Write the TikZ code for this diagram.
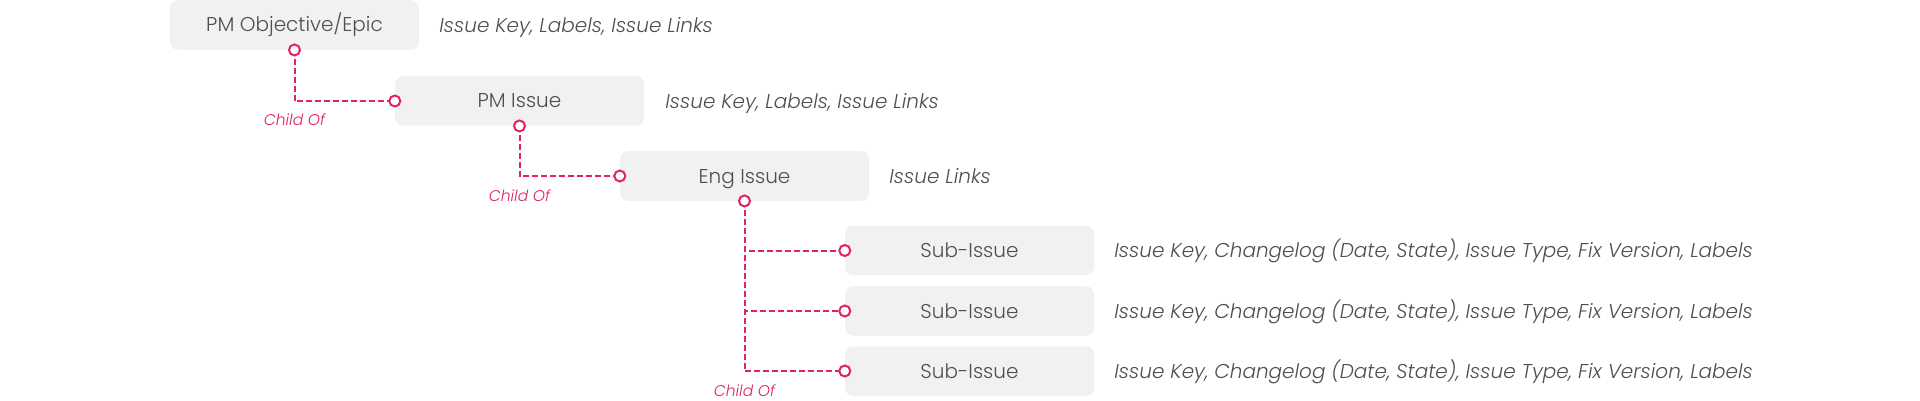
\documentclass[tikz,border=0pt]{standalone}
\usepackage{fontspec}
\setmainfont{Poppins}[UprightFont={* Light}, ItalicFont={* Light Italic}]
\usetikzlibrary{calc}
\definecolor{linkpink}{HTML}{E0245E}
\definecolor{boxgray}{HTML}{F1F1F1}
\definecolor{txtgray}{HTML}{4F4F4F}
\begin{document}
\begin{tikzpicture}[x=1pt,y=-1pt,
  box/.style={fill=boxgray, rounded corners=8pt, minimum width=249pt, minimum height=49.5pt,
    inner sep=0pt, text height=14pt, text depth=0pt, font=\fontsize{20}{24}\selectfont, text=txtgray},
  attr/.style={anchor=west, inner sep=0pt, text height=14.6pt, text depth=0pt,
    font=\fontsize{20}{24}\selectfont\itshape, text=txtgray},
  link/.style={draw=linkpink, line width=2pt, dash pattern=on 6pt off 3pt},
  port/.style={circle, draw=linkpink, line width=2pt, fill=white, minimum size=11pt, inner sep=0pt},
  lbl/.style={anchor=base, inner sep=0pt, font=\fontsize{15.5}{18}\selectfont\itshape, text=linkpink}]
\useasboundingbox (0,0) rectangle (1920,401);

\node[box] (b1) at (294.5,25) {PM Objective/Epic};
\node[box] (b2) at (519.5,101) {PM Issue};
\node[box] (b3) at (744.5,176) {Eng Issue};
\node[box] (s1) at (969.5,250.5) {Sub-Issue};
\node[box] (s2) at (969.5,311) {Sub-Issue};
\node[box] (s3) at (969.5,371) {Sub-Issue};

\node[attr] (a1) at ($(b1.east)+(20,0)$) {Issue Key, Labels, Issue Links};
\node[attr] (a2) at ($(b2.east)+(21,0)$) {Issue Key, Labels, Issue Links};
\node[attr] (a3) at ($(b3.east)+(20,0)$) {Issue Links};
\node[attr] (a4) at ($(s1.east)+(20,0)$) {Issue Key, Changelog (Date, State), Issue Type, Fix Version, Labels};
\node[attr] (a5) at ($(s2.east)+(20,0)$) {Issue Key, Changelog (Date, State), Issue Type, Fix Version, Labels};
\node[attr] (a6) at ($(s3.east)+(20,0)$) {Issue Key, Changelog (Date, State), Issue Type, Fix Version, Labels};

\coordinate (p1c) at (b1.south);
\coordinate (q2c) at (b2.west);
\coordinate (p2c) at (b2.south);
\coordinate (q3c) at (b3.west);
\coordinate (p3c) at (b3.south);
\coordinate (r1c) at (s1.west);
\coordinate (r2c) at (s2.west);
\coordinate (r3c) at (s3.west);

\draw[link] (p1c) |- (q2c);
\draw[link] (p2c) |- (q3c);
\draw[link] (p3c) |- (r1c);
\draw[link] (p3c) |- (r2c);
\draw[link] (p3c) |- (r3c);

\node[port] (p1) at (p1c) {};
\node[port] (q2) at (q2c) {};
\node[port] (p2) at (p2c) {};
\node[port] (q3) at (q3c) {};
\node[port] (p3) at (p3c) {};
\node[port] (r1) at (r1c) {};
\node[port] (r2) at (r2c) {};
\node[port] (r3) at (r3c) {};

\node[lbl] (c1) at ($(p1 |- q2)+(0,25)$) {Child Of};
\node[lbl] (c2) at ($(p2 |- q3)+(0,25.5)$) {Child Of};
\node[lbl] (c3) at ($(p3 |- r3)+(0,25)$) {Child Of};
\end{tikzpicture}
\end{document}
